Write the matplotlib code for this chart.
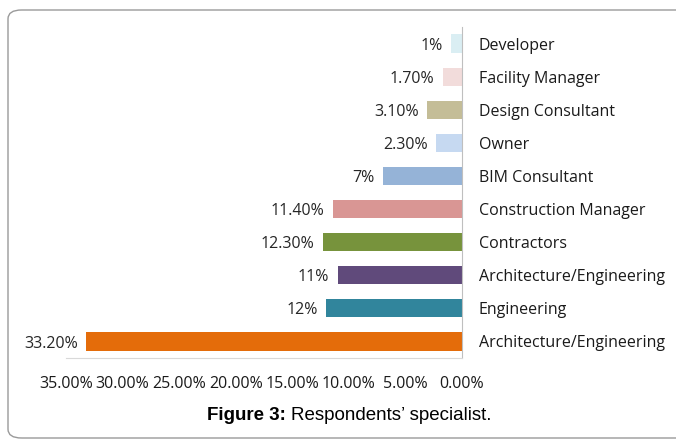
import matplotlib
matplotlib.use("Agg")
import matplotlib.pyplot as plt
from matplotlib.patches import FancyBboxPatch
from matplotlib.ticker import FuncFormatter

# data, top to bottom as shown
categories = ["Developer", "Facility Manager", "Design Consultant", "Owner",
              "BIM Consultant", "Construction Manager", "Contractors",
              "Architecture/Engineering", "Engineering", "Architecture/Engineering"]
values = [1.0, 1.7, 3.1, 2.3, 7.0, 11.4, 12.3, 11.0, 12.0, 33.2]
value_labels = ["1%", "1.70%", "3.10%", "2.30%", "7%", "11.40%", "12.30%",
                "11%", "12%", "33.20%"]
colors = ["#DAEEF3", "#F2DCDB", "#C4BD97", "#C6D9F1", "#95B3D7",
          "#D99694", "#77933C", "#604A7B", "#31859C", "#E46C0A"]
xticks = [0, 5, 10, 15, 20, 25, 30, 35]

plt.rcParams['font.family'] = ['Open Sans', 'DejaVu Sans']

W, H = 676, 441
fig = plt.figure(figsize=(W / 100, H / 100), dpi=100)

# rounded frame around the figure
frame = FancyBboxPatch((8 / W, 1 - 438 / H), 700 / W, 428 / H,
                       boxstyle="round,pad=0,rounding_size=0.02",
                       transform=fig.transFigure, fill=False,
                       edgecolor="#9a9a9a", linewidth=1.0)
fig.patches.append(frame)

ax = fig.add_axes([66 / W, 1 - 358 / H, (462 - 66) / W, (358 - 27) / H])
y = list(range(len(categories)))
ax.barh(y, values, height=0.55, color=colors)
ax.set_xlim(35, 0)
ax.set_ylim(len(categories) - 0.5, -0.5)

for yi, v, lab in zip(y, values, value_labels):
    ax.annotate(lab, (v, yi), xytext=(-6, -1.5), textcoords="offset points",
                ha="right", va="center", fontsize=11.5, color="#262626")

ax.yaxis.tick_right()
ax.set_yticks(y)
ax.set_yticklabels(categories, fontsize=11.5, color="#1a1a1a")
ax.tick_params(axis="y", length=0, pad=12)

ax.set_xticks(xticks)
ax.xaxis.set_major_formatter(FuncFormatter(lambda v, p: f"{v:.2f}%"))
ax.tick_params(axis="x", length=0, pad=13, labelsize=11.5, labelcolor="#1a1a1a")

for s in ["top", "left"]:
    ax.spines[s].set_visible(False)
ax.spines["right"].set_color("#bfbfbf")
ax.spines["bottom"].set_color("#d9d9d9")

fig.text(286 / W, 1 - 415 / H, "Figure 3:", ha="right", va="center",
         fontsize=13.5, fontweight="bold", family="Liberation Sans")
fig.text(291 / W, 1 - 415 / H, "Respondents\u2019 specialist.", ha="left",
         va="center", fontsize=13.5, family="Liberation Sans")

fig.savefig("out.png", dpi=100)
